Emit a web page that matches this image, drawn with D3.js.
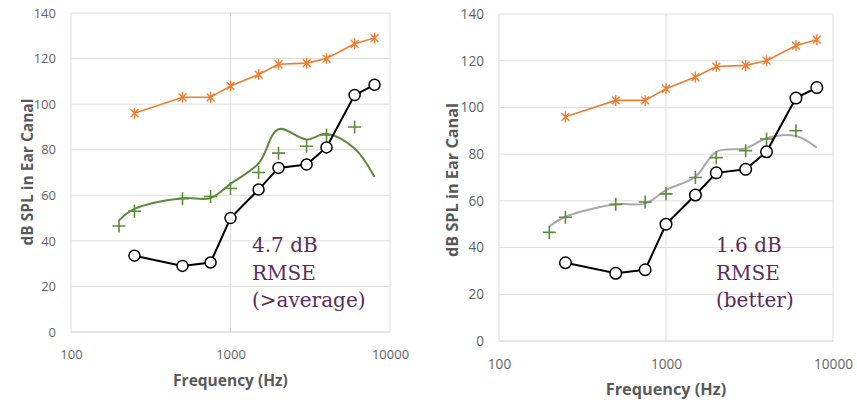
<!DOCTYPE html>
<html>
<head>
<meta charset="utf-8">
<script src="https://cdn.jsdelivr.net/npm/d3@7"></script>
<style>
  html, body { margin: 0; padding: 0; background: #fff; }
  svg { display: block; }
</style>
</head>
<body>
<svg id="chart" width="857" height="402"></svg>
<script>
// Audiometric frequencies (Hz)
const freqs = [250, 500, 750, 1000, 1500, 2000, 3000, 4000, 6000, 8000];
// Loudness discomfort level (orange stars)
const discomfortLevels = [96, 103, 103, 108, 113, 117.5, 118, 120, 126.5, 129];
// Hearing threshold (black open circles)
const thresholds = [33.5, 29, 30.5, 50, 62.5, 72, 73.5, 81, 104, 108.5];
// Prescription target (green crosses)
const targetFreqs = [200, 250, 500, 750, 1000, 1500, 2000, 3000, 4000, 6000];
const targets = [46.5, 53, 58.5, 59.5, 63, 70, 78.5, 81.5, 86.5, 90];
// Measured hearing-aid output (smooth lines)
const fitFreqs = [200, 250, 500, 750, 1000, 1500, 2000, 3000, 4000, 6000, 8000];
const fitBefore = [49, 54, 58.7, 58.8, 65, 74, 89, 84.5, 87, 80.5, 68];
const fitAfter = [49, 53.2, 58.5, 58.8, 64.6, 70.3, 81, 82.5, 86.8, 87.8, 82.8];
// Axis ticks and labels
const xTicks = [100, 1000, 10000];
const yTicks = [0, 20, 40, 60, 80, 100, 120, 140];
const xTitle = "Frequency (Hz)";
const yTitle = "dB SPL in Ear Canal";
const noteBefore = ["4.7 dB", "RMSE", "(>average)"];
const noteAfter = ["1.6 dB", "RMSE", "(better)"];

const svg = d3.select("#chart");

const panels = [
  { left: 71, right: 390, top: 13, bottom: 332, k: 1.0,
    tickY: 359, titleY: 386, yTitleX: 33, yTitleY: 172,
    fit: fitBefore, fitColor: "#5b8b3b", note: noteBefore, noteX: 252 },
  { left: 499, right: 833, top: 14, bottom: 341, k: 1.05,
    tickY: 369, titleY: 395, yTitleX: 458, yTitleY: 180,
    fit: fitAfter, fitColor: "#a9a9a9", note: noteAfter, noteX: 716 }
];

function starPath(r) {
  const d = r * Math.SQRT1_2;
  return `M0,${-r}L0,${r}M${-d},${-d}L${d},${d}M${-d},${d}L${d},${-d}`;
}
function plusPath(r) {
  return `M${-r},0L${r},0M0,${-r}L0,${r}`;
}

panels.forEach(p => {
  const x = d3.scaleLog().domain([100, 10000]).range([p.left, p.right]);
  const y = d3.scaleLinear().domain([0, 140]).range([p.bottom, p.top]);
  const g = svg.append("g");
  const tickFont = 13 * p.k;
  const titleFont = 15.5 * p.k;

  // Grid
  g.append("g").selectAll("line").data(yTicks).join("line")
    .attr("x1", p.left).attr("x2", p.right)
    .attr("y1", d => y(d)).attr("y2", d => y(d))
    .attr("stroke", d => d === 0 ? "#c8c8c8" : "#dcdcdc").attr("stroke-width", 1);
  g.append("g").selectAll("line").data(xTicks).join("line")
    .attr("x1", d => x(d)).attr("x2", d => x(d))
    .attr("y1", p.top).attr("y2", p.bottom)
    .attr("stroke", "#dcdcdc").attr("stroke-width", 1);

  // Axes labels via d3 axes (domain and tick lines hidden)
  const yAxis = g.append("g").attr("transform", `translate(${p.left - 15},0)`)
    .call(d3.axisLeft(y).tickValues(yTicks).tickSize(0).tickPadding(0));
  const xAxis = g.append("g").attr("transform", `translate(0,${p.tickY - tickFont * 0.75})`)
    .call(d3.axisBottom(x).tickValues(xTicks).tickFormat(d3.format("d")).tickSize(0).tickPadding(0));
  [yAxis, xAxis].forEach(a => {
    a.select(".domain").remove();
    a.selectAll("text").attr("fill", "#646464")
      .style("font-family", "'Open Sans', sans-serif").style("font-size", tickFont + "px");
  });
  xAxis.selectAll("text").attr("dy", "0.75em").attr("y", 0);

  // Axis titles
  g.append("text").attr("x", (p.left + p.right) / 2).attr("y", p.titleY)
    .attr("text-anchor", "middle").attr("fill", "#595959")
    .style("font-family", "'Open Sans', sans-serif").style("font-weight", 700)
    .style("font-size", titleFont + "px").text(xTitle);
  g.append("text")
    .attr("transform", `translate(${p.yTitleX},${p.yTitleY}) rotate(-90)`)
    .attr("text-anchor", "middle").attr("fill", "#595959")
    .style("font-family", "'Open Sans', sans-serif").style("font-weight", 700)
    .style("font-size", titleFont + "px").text(yTitle);

  // Discomfort levels: orange line with star markers
  const straight = d3.line().x(d => x(d[0])).y(d => y(d[1]));
  const ucl = freqs.map((f, i) => [f, discomfortLevels[i]]);
  g.append("path").attr("d", straight(ucl)).attr("fill", "none")
    .attr("stroke", "#ed7d31").attr("stroke-width", 1.6);
  g.append("g").selectAll("path").data(ucl).join("path")
    .attr("transform", d => `translate(${x(d[0])},${y(d[1])})`)
    .attr("d", starPath(5.5)).attr("fill", "none")
    .attr("stroke", "#ed7d31").attr("stroke-width", 1.4);

  // Fitted output: smooth curve
  const smooth = d3.line().x(d => x(d[0])).y(d => y(d[1])).curve(d3.curveCatmullRom.alpha(0.5));
  const fit = fitFreqs.map((f, i) => [f, p.fit[i]]);
  g.append("path").attr("d", smooth(fit)).attr("fill", "none")
    .attr("stroke", p.fitColor).attr("stroke-width", 2);

  // Targets: green crosses
  g.append("g").selectAll("path").data(targetFreqs.map((f, i) => [f, targets[i]])).join("path")
    .attr("transform", d => `translate(${x(d[0])},${y(d[1])})`)
    .attr("d", plusPath(6.5)).attr("fill", "none")
    .attr("stroke", "#5b8b3b").attr("stroke-width", 1.6);

  // Thresholds: black line with open circles
  const thr = freqs.map((f, i) => [f, thresholds[i]]);
  g.append("path").attr("d", straight(thr)).attr("fill", "none")
    .attr("stroke", "#000").attr("stroke-width", 2);
  g.append("g").selectAll("circle").data(thr).join("circle")
    .attr("cx", d => x(d[0])).attr("cy", d => y(d[1])).attr("r", 5.5 * p.k)
    .attr("fill", "#fff").attr("stroke", "#000").attr("stroke-width", 1.5);

  // RMSE note
  g.append("g").selectAll("text").data(p.note).join("text")
    .attr("x", p.noteX).attr("y", (d, i) => 252 + i * 27.5)
    .attr("fill", "#5a2c5c")
    .style("font-family", "'DejaVu Serif', serif").style("font-size", "20px")
    .text(d => d);
});
</script>
</body>
</html>
